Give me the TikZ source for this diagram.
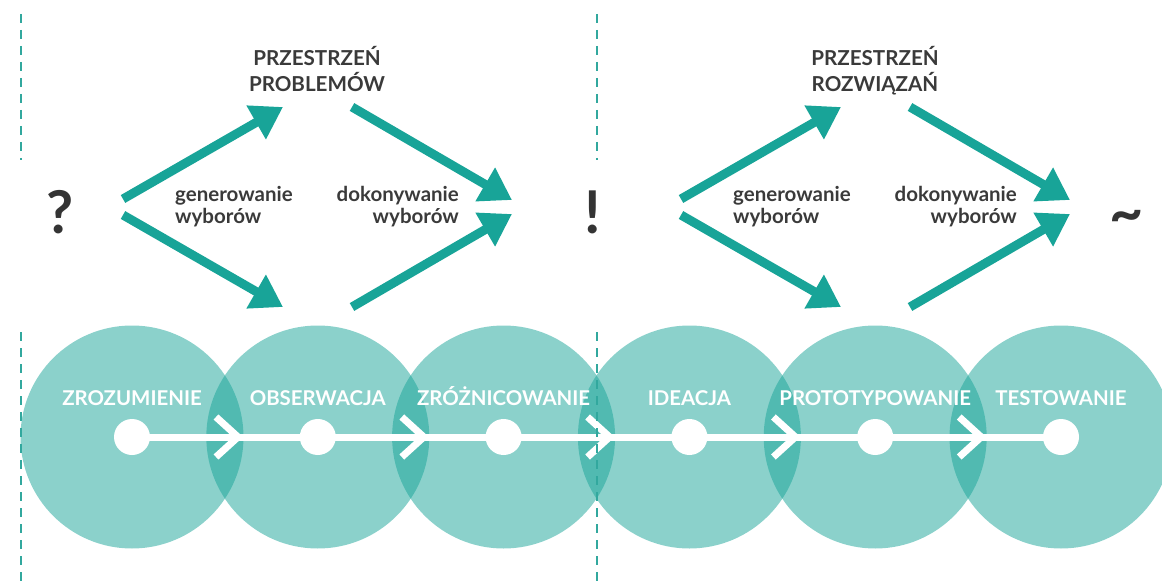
\documentclass[tikz,border=0pt]{standalone}
\usepackage{fontspec}
\setmainfont{Lato}
\usetikzlibrary{arrows.meta}
\definecolor{teal1}{RGB}{24,164,152}
\definecolor{rule}{RGB}{50,168,158}
\definecolor{ink}{RGB}{58,58,58}

\begin{document}
\begin{tikzpicture}[x=1pt,y=-1pt,
  flow/.style={line width=9pt, draw=teal1, -{Triangle[length=31pt,width=37pt]}},
  divider/.style={draw=rule, line width=2.6pt, dash pattern=on 9pt off 7pt},
  stage/.style={circle, minimum size=223pt, inner sep=0pt, fill=teal1, fill opacity=0.5},
  dot/.style={circle, minimum size=36pt, inner sep=0pt, fill=white},
  stagelabel/.style={anchor=base, text=white, font=\bfseries\fontsize{20.4}{21}\selectfont, inner sep=0pt},
  heading/.style={anchor=base, text=ink, font=\bfseries\fontsize{20.6}{21}\selectfont, inner sep=0pt},
  note/.style={text=ink, font=\bfseries\fontsize{20.5}{21}\selectfont, inner sep=0pt},
  sign/.style={anchor=base, text=ink!90!black, font=\bfseries\fontsize{59}{60}\selectfont, inner sep=0pt},
  chevron/.style={draw=white, line width=7pt, line join=miter},
  track/.style={draw=white, line width=7pt},
]
\useasboundingbox (0,0) rectangle (1162,583);

% six overlapping stage circles
\foreach \i in {0,...,5}
  \node[stage] (c\i) at ({132+185.8*\i},437) {};

% process track with stage dots
\foreach \i in {0,...,5}
  \coordinate (p\i) at ({132+185.8*\i},437);
\draw[track] (p0) -- (p5);
\foreach \i in {0,...,5}
  \node[dot] (d\i) at (p\i) {};

% chevrons in the overlaps
\foreach \i in {0,...,4}{
  \coordinate (k\i) at ({132+185.8*\i+106},437);
  \draw[chevron] (k\i) ++(-22,-20) -- (k\i) -- ++(-22,20);
}

% stage names
\foreach \i/\t in {0/ZROZUMIENIE,1/OBSERWACJA,2/ZRÓŻNICOWANIE,3/IDEACJA,4/PROTOTYPOWANIE,5/TESTOWANIE}
  \node[stagelabel] (l\i) at ({132+185.8*\i},405) {\t};

% dashed dividers
\coordinate (v1a) at (21,14);  \coordinate (v1b) at (21,160);
\coordinate (v1c) at (21,332); \coordinate (v1d) at (21,583);
\coordinate (v2a) at (597,14);  \coordinate (v2b) at (597,160);
\coordinate (v2c) at (597,332); \coordinate (v2d) at (597,583);
\draw[divider] (v1a) -- (v1b);
\draw[divider] (v1c) -- (v1d);
\draw[divider] (v2a) -- (v2b);
\draw[divider] (v2c) -- (v2d);

% diverge / converge diamonds
\foreach \o/\n in {0/L,558/R}{
  \coordinate (gA\n) at (123+\o,199);
  \coordinate (gB\n) at (123+\o,215);
  \coordinate (top\n) at (283+\o,107);
  \coordinate (bot\n) at (283+\o,307);
  \coordinate (cA\n) at (352+\o,107);
  \coordinate (cB\n) at (352+\o,307);
  \coordinate (eA\n) at (512+\o,200);
  \coordinate (eB\n) at (512+\o,214);
  \draw[flow] (gA\n) -- (top\n);
  \draw[flow] (gB\n) -- (bot\n);
  \draw[flow] (cA\n) -- (eA\n);
  \draw[flow] (cB\n) -- (eB\n);
  \node[note, anchor=base west] (gen1\n) at (175+\o,201) {generowanie};
  \node[note, anchor=base west] (gen2\n) at (175+\o,223) {wyborów};
  \node[note, anchor=base east] (dok1\n) at (459+\o,201) {dokonywanie};
  \node[note, anchor=base east] (dok2\n) at (459+\o,223) {wyborów};
}

% space titles
\node[heading] (h1a) at (317,66) {PRZESTRZEŃ};
\node[heading] (h1b) at (317,92) {PROBLEMÓW};
\node[heading] (h2a) at (875,66) {PRZESTRZEŃ};
\node[heading] (h2b) at (875,92) {ROZWIĄZAŃ};

% question, insight, iteration
\node[sign] (q) at (60,233) {?};
\node[sign] (ex) at (593,233) {!};
\node[sign] (ti) at (1127,233) {\char"007E};
\end{tikzpicture}
\end{document}
